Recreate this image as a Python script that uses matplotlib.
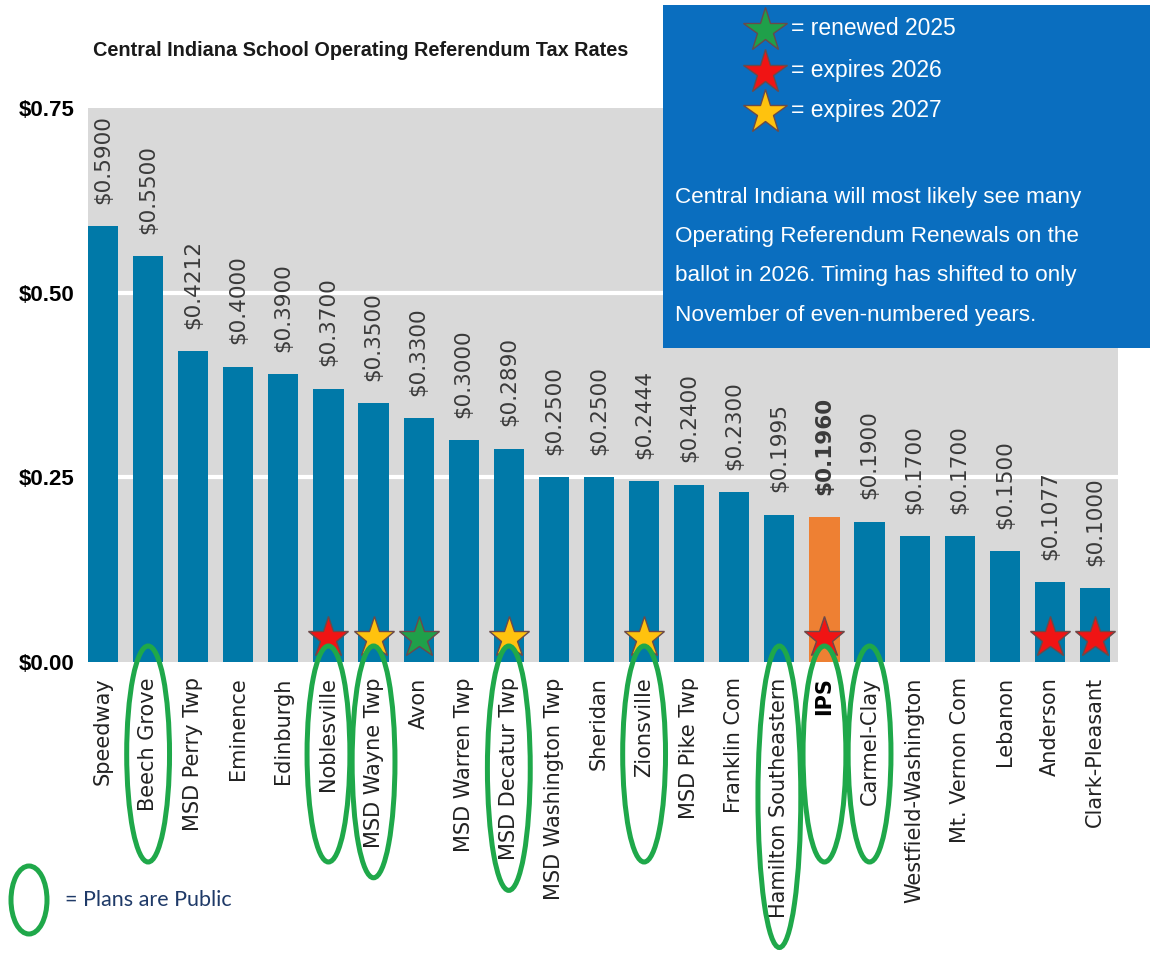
import matplotlib
matplotlib.use("Agg")
import matplotlib.pyplot as plt
import matplotlib.transforms as mtransforms
from matplotlib.patches import Ellipse

plt.rcParams["font.family"] = ["DejaVu Sans"]

# data
districts = ["Speedway", "Beech Grove", "MSD Perry Twp", "Eminence", "Edinburgh",
             "Noblesville", "MSD Wayne Twp", "Avon", "MSD Warren Twp",
             "MSD Decatur Twp", "MSD Washington Twp", "Sheridan", "Zionsville",
             "MSD Pike Twp", "Franklin Com", "Hamilton Southeastern", "IPS",
             "Carmel-Clay", "Westfield-Washington", "Mt. Vernon Com", "Lebanon",
             "Anderson", "Clark-Pleasant"]
rates = [0.5900, 0.5500, 0.4212, 0.4000, 0.3900, 0.3700, 0.3500, 0.3300, 0.3000,
         0.2890, 0.2500, 0.2500, 0.2444, 0.2400, 0.2300, 0.1995, 0.1960, 0.1900,
         0.1700, 0.1700, 0.1500, 0.1077, 0.1000]
status = ["", "", "", "", "", "expires 2026", "expires 2027", "renewed 2025", "",
          "expires 2027", "", "", "expires 2027", "", "", "", "expires 2026", "",
          "", "", "", "expires 2026", "expires 2026"]
plans_public = ["Beech Grove", "Noblesville", "MSD Wayne Twp", "MSD Decatur Twp",
                "Zionsville", "Hamilton Southeastern", "IPS", "Carmel-Clay"]
highlight = "IPS"
yticks = [0.0, 0.25, 0.50, 0.75]
note_lines = ["Central Indiana will most likely see many",
              "Operating Referendum Renewals on the",
              "ballot in 2026. Timing has shifted to only",
              "November of even-numbered years."]

star_colors = {"renewed 2025": "#1FA04A", "expires 2026": "#F01414",
               "expires 2027": "#FFC20E"}
bar_color = "#0079A8"
hi_color = "#EE8033"
green = "#1FA84A"
sans = ["Liberation Sans", "DejaVu Sans"]

W, H = 1153, 957
fig = plt.figure(figsize=(W / 100, H / 100), dpi=100)
ax = fig.add_axes([88 / W, 1 - 662 / H, (1118 - 88) / W, (662 - 108) / H])
ax.set_facecolor("#D9D9D9")

x = list(range(len(districts)))
colors = [hi_color if d == highlight else bar_color for d in districts]
ax.bar(x, rates, width=0.67, color=colors, zorder=3)

for i, (d, r) in enumerate(zip(districts, rates)):
    ax.annotate(f"${r:.4f}", (i, r), xytext=(0, 16), textcoords="offset points",
                rotation=90, ha="center", va="bottom", fontsize=15.5,
                color="#3A3A3A", fontweight="bold" if d == highlight else "normal")

# status stars at the foot of the bars
for i, s in enumerate(status):
    if s:
        ax.plot(i, 0.032, marker="*", ms=31, color=star_colors[s], mec="#6A4A4A",
                mew=1.0, zorder=5, clip_on=False)

ax.set_xlim(-0.333, 22.51)
ax.set_ylim(0, 0.75)
ax.set_yticks(yticks)
ax.set_yticklabels([f"${v:.2f}" for v in yticks], fontsize=16, fontweight="bold",
                   family=sans)
ax.tick_params(axis="y", length=0, pad=10)
ax.set_xticks(x)
ax.set_xticklabels(districts, rotation=90, fontsize=15, color="#222222")
ax.tick_params(axis="x", length=0, pad=11)
for lbl in ax.get_xticklabels():
    if lbl.get_text() == highlight:
        lbl.set_fontweight("bold")
        lbl.set_color("black")
for v in yticks[1:-1]:
    ax.axhline(v, color="white", lw=3, zorder=1)
for sp in ax.spines.values():
    sp.set_visible(False)

fig.text(93 / W, 1 - 50 / H, "Central Indiana School Operating Referendum Tax Rates",
         fontsize=14.3, fontweight="bold", family=sans, va="center", color="#1A1A1A")

# green ellipses around the districts with public plans
fig.canvas.draw()
renderer = fig.canvas.get_renderer()
blend = mtransforms.blended_transform_factory(ax.transData, ax.transAxes)
y0, hpx = ax.bbox.y0, ax.bbox.height
for lbl, d in zip(ax.get_xticklabels(), districts):
    if d in plans_public:
        bb = lbl.get_window_extent(renderer)
        top = y0 + 16
        bottom = min(bb.y0 - 30, y0 - 200)
        cy = ((top + bottom) / 2 - y0) / hpx
        h = (top - bottom) / hpx
        ax.add_patch(Ellipse((x[districts.index(d)], cy), 0.95, h, transform=blend,
                             fill=False, ec=green, lw=3.6, clip_on=False, zorder=6))

# blue legend / note box
box = fig.add_axes([663 / W, 1 - 348 / H, 487 / W, 343 / H])
box.set_facecolor("#0A6EBF")
box.set_xticks([])
box.set_yticks([])
for sp in box.spines.values():
    sp.set_visible(False)
box.set_xlim(0, 1)
box.set_ylim(0, 1)
for lab, yy in zip(star_colors, [0.927, 0.805, 0.688]):
    box.plot(0.209, yy, marker="*", ms=33, color=star_colors[lab], mec="#6A4A4A",
             mew=1.0, clip_on=False)
    box.text(0.262, yy + 0.005, "= " + lab, color="white", fontsize=16.5,
             family=sans, va="center")
for k, line in enumerate(note_lines):
    box.text(0.025, 0.44 - k * 0.115, line, color="white", fontsize=16.2,
             family=sans, va="center")

# plans-are-public key
fig.add_artist(Ellipse((29 / W, 1 - 900 / H), 36 / W, 68 / H, transform=fig.transFigure,
                       fill=False, ec=green, lw=3.6))
fig.text(65 / W, 1 - 900 / H, "= Plans are Public", fontsize=15.5, color="#1F3A68",
         family=["Lato", "DejaVu Sans"], va="center")

fig.savefig("out.png", dpi=100)
